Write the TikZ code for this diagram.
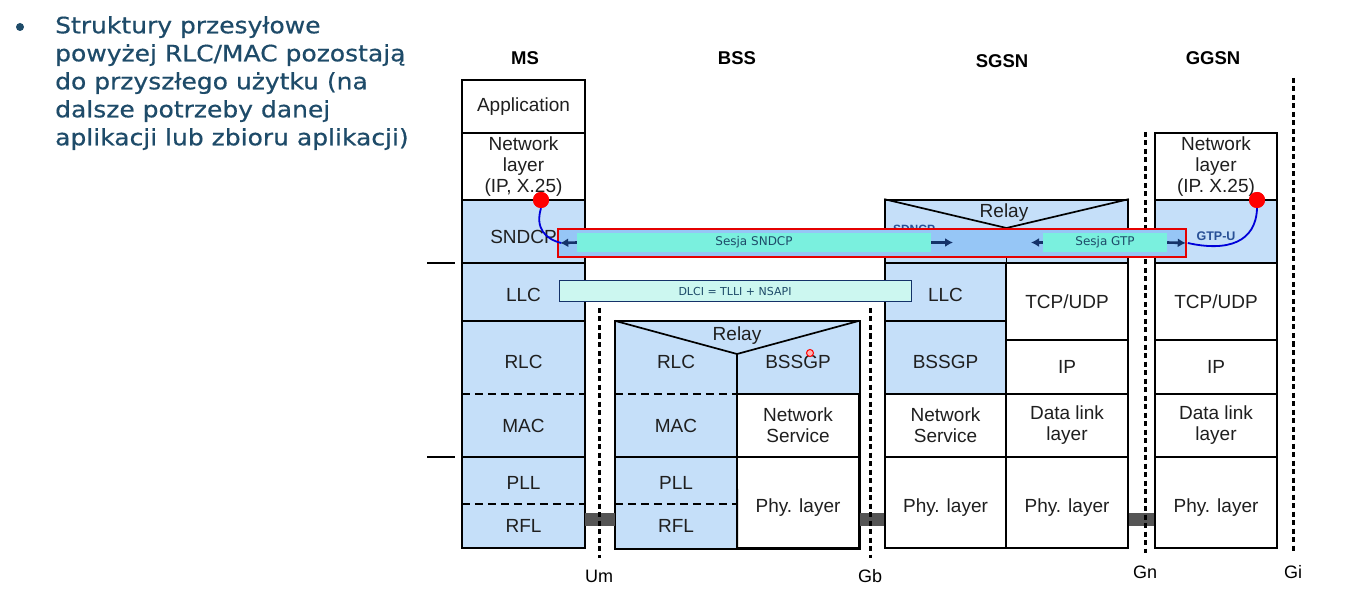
\documentclass[tikz,border=0pt]{standalone}
\usepackage{fontspec}
\setmainfont{Liberation Sans}
\newfontfamily\slajd[FakeStretch=1.11,FakeBold=0.5]{DejaVu Sans}
\newfontfamily\pasek{DejaVu Sans}
\usetikzlibrary{arrows.meta}
\definecolor{nieb}{RGB}{197,223,249}
\definecolor{pasnieb}{RGB}{150,198,246}
\definecolor{turkus}{RGB}{122,240,222}
\definecolor{jturkus}{RGB}{204,247,240}
\definecolor{morski}{RGB}{30,75,105}
\definecolor{granat}{RGB}{20,50,105}
\definecolor{ciemnyn}{RGB}{40,80,150}
\definecolor{szary}{RGB}{85,85,85}
\colorlet{tekstkom}{black!88}
\tikzstyle{kom}=[draw, line width=1.7pt, inner sep=0pt, align=center, text=tekstkom,
  font=\fontsize{19}{21}\selectfont]
\tikzstyle{bkom}=[kom, fill=nieb]
\tikzstyle{pkom}=[inner sep=0pt, align=center, fill=nieb, text=tekstkom,
  font=\fontsize{19}{21}\selectfont]
\tikzstyle{napis}=[inner sep=0pt, text=tekstkom, font=\fontsize{19}{21}\selectfont]
\tikzstyle{ramka}=[line width=1.7pt]
\tikzstyle{kreski}=[line width=1.7pt, dash pattern=on 8pt off 5pt]
\tikzstyle{interf}=[line width=3pt, dash pattern=on 5pt off 3.5pt]
\tikzstyle{lacze}=[line width=13pt, draw=szary]
\tikzstyle{strz}=[-{Latex[length=8pt,width=9pt]}, line width=2.6pt, draw=granat]
\tikzstyle{luk}=[line width=1.8pt, draw=blue!85!black]
\tikzstyle{naglowek}=[font=\bfseries\fontsize{18.5}{20}\selectfont, inner sep=0pt]
\tikzstyle{etyk}=[font=\fontsize{18}{20}\selectfont, inner sep=0pt]

\begin{document}
\begin{tikzpicture}[x=1pt,y=-1pt]
\fill[white] (0,0) rectangle (1351,593);
\useasboundingbox (0,0) rectangle (1351,593);

% tekst slajdu
\node[circle, fill=morski, minimum size=8, inner sep=0pt] (kropka) at (20,27) {};
\node[anchor=north west, inner sep=0pt, align=left, text=morski,
  font=\slajd\fontsize{22.5}{28}\selectfont] (punkt) at (55,16)
  {Struktury przesyłowe\\powyżej RLC/MAC pozostają\\do przyszłego użytku (na\\dalsze potrzeby danej\\aplikacji lub zbioru aplikacji)};

% naglowki
\node[naglowek] (tms) at (525,58) {MS};
\node[naglowek] (tbss) at (737,58) {BSS};
\node[naglowek] (tsgsn) at (1002,61) {SGSN};
\node[naglowek] (tggsn) at (1213,58) {GGSN};

% MS
\node[kom, minimum width=123, minimum height=53] (msapp) at (523.5,106.5) {Application};
\node[kom, minimum width=123, minimum height=67] (msnet) at (523.5,166.5) {Network\\layer\\(IP, X.25)};
\node[bkom, minimum width=123, minimum height=63, label={[napis, yshift=-5pt]center:SNDCP}] (mssndcp) at (523.5,231.5) {};
\node[bkom, minimum width=123, minimum height=58, label={[napis, yshift=-3pt]center:LLC}] (msllc) at (523.5,292) {};
\node[pkom, minimum width=123, minimum height=73, label={[napis, yshift=-4pt]center:RLC}] (msrlc) at (523.5,357.5) {};
\node[pkom, minimum width=123, minimum height=63] (msmac) at (523.5,425.5) {MAC};
\node[pkom, minimum width=123, minimum height=47, label={[napis, yshift=-2pt]center:PLL}] (mspll) at (523.5,480.5) {};
\node[pkom, minimum width=123, minimum height=44] (msrfl) at (523.5,526) {RFL};
\draw[ramka] (msrlc.north west) rectangle (msrfl.south east);
\draw[ramka] (mspll.north west) -- (mspll.north east);
\draw[kreski] (msmac.north west) -- (msmac.north east);
\draw[kreski] (msrfl.north west) -- (msrfl.north east);
\draw[line width=1.5pt] (427,263) -- (455,263);
\draw[line width=1.5pt] (427,457) -- (455,457);

% BSS
\node[pkom, minimum width=244, minimum height=73] (bssgora) at (737,357.5) {};
\node[napis] (bssrelay) at (737,336) {Relay};
\node[napis] (bssrlc) at (676,362) {RLC};
\node[napis] (bssbssgp) at (798,362) {BSSGP};
\node[pkom, minimum width=122, minimum height=63] (bssmac) at (676,425.5) {MAC};
\node[pkom, minimum width=122, minimum height=47, label={[napis, yshift=-2pt]center:PLL}] (bsspll) at (676,480.5) {};
\node[pkom, minimum width=122, minimum height=44] (bssrfl) at (676,526) {RFL};
\node[kom, minimum width=122, minimum height=63] (bssns) at (798,425.5) {Network\\Service};
\node[kom, minimum width=122, minimum height=91, label={[napis, yshift=-5pt]center:Phy. layer}] (bssphy) at (798,502.5) {};
\coordinate (bssszczyt) at (737,354);
\draw[ramka] (bssgora.north west) rectangle (bssphy.south east);
\draw[ramka] (bssgora.north west) -- (bssszczyt) -- (bssgora.north east);
\draw[ramka] (bssszczyt) -- (bssrfl.south east);
\draw[ramka] (bsspll.north west) -- (bsspll.north east);
\draw[kreski] (bssmac.north west) -- (bssmac.north east);
\draw[kreski] (bssrfl.north west) -- (bssrfl.north east);

% SGSN
\node[bkom, minimum width=243, minimum height=63] (sggora) at (1006.5,231.5) {};
\node[napis] (sgrelay) at (1004,213) {Relay};
\node[inner sep=0pt, text=ciemnyn, font=\bfseries\fontsize{12}{14}\selectfont] (sgsdncp) at (914,229) {SDNCP};
\coordinate (sgszczyt) at (1006.5,228);
\draw[ramka] (sggora.north west) -- (sgszczyt) -- (sggora.north east);
\draw[ramka] (sgszczyt) -- (sggora.south);
\node[bkom, minimum width=121, minimum height=58, label={[napis, yshift=-3pt]center:LLC}] (sgllc) at (945.5,292) {};
\node[bkom, minimum width=121, minimum height=73, label={[napis, yshift=-4pt]center:BSSGP}] (sgbssgp) at (945.5,357.5) {};
\node[kom, minimum width=121, minimum height=63] (sgns) at (945.5,425.5) {Network\\Service};
\node[kom, minimum width=121, minimum height=91, label={[napis, yshift=-5pt]center:Phy. layer}] (sgphy) at (945.5,502.5) {};
\node[kom, minimum width=122, minimum height=77] (sgtcp) at (1067,301.5) {TCP/UDP};
\node[kom, minimum width=122, minimum height=54] (sgip) at (1067,367) {IP};
\node[kom, minimum width=122, minimum height=63] (sgdl) at (1067,425.5) {Data link\\layer};
\node[kom, minimum width=122, minimum height=91, label={[napis, yshift=-5pt]center:Phy. layer}] (sgphyd) at (1067,502.5) {};

% GGSN
\node[kom, minimum width=122, minimum height=67] (ggnet) at (1216,166.5) {Network\\layer\\(IP. X.25)};
\node[bkom, minimum width=122, minimum height=63] (gggtp) at (1216,231.5) {};
\node[inner sep=0pt, text=ciemnyn, font=\bfseries\fontsize{12.5}{14}\selectfont] (gggtpu) at (1216,236) {GTP-U};
\node[kom, minimum width=122, minimum height=77] (ggtcp) at (1216,301.5) {TCP/UDP};
\node[kom, minimum width=122, minimum height=54] (ggip) at (1216,367) {IP};
\node[kom, minimum width=122, minimum height=63] (ggdl) at (1216,425.5) {Data link\\layer};
\node[kom, minimum width=122, minimum height=91, label={[napis, yshift=-5pt]center:Phy. layer}] (ggphy) at (1216,502.5) {};

% lacza fizyczne
\draw[lacze] ([yshift=7pt]msrfl.east) -- ([yshift=7pt]bssrfl.west);
\draw[lacze] ([yshift=-16.5pt]bssphy.east) -- ([yshift=-16.5pt]sgphy.west);
\draw[lacze] ([yshift=-16.5pt]sgphyd.east) -- ([yshift=-16.5pt]ggphy.west);

% interfejsy
\node[etyk] (um) at (599,576) {Um};
\node[etyk] (gb) at (870,576) {Gb};
\node[etyk] (gn) at (1145,572) {Gn};
\node[etyk] (gi) at (1293,572) {Gi};
\coordinate (umg) at (599,308); \coordinate (umd) at (599,558);
\coordinate (gbg) at (870,308); \coordinate (gbd) at (870,558);
\coordinate (gng) at (1145,132); \coordinate (gnd) at (1145,553);
\coordinate (gig) at (1293,78); \coordinate (gid) at (1293,553);
\draw[interf] (umg) -- (umd);
\draw[interf] (gbg) -- (gbd);
\draw[interf] (gng) -- (gnd);
\draw[interf] (gig) -- (gid);

% sesje
\node[draw=red!90!black, fill=pasnieb, line width=1.5pt, minimum width=628, minimum height=28, inner sep=0pt] (sesja) at (872,243) {};
\node[fill=turkus, minimum width=354, minimum height=19, inner sep=0pt, text=morski,
  font=\pasek\fontsize{12}{14}\selectfont] (ssndcp) at (754,242.5) {Sesja SNDCP};
\node[fill=turkus, minimum width=124, minimum height=19, inner sep=0pt, text=morski,
  font=\pasek\fontsize{12}{14}\selectfont] (sgtp) at (1105,242.5) {Sesja GTP};
\coordinate (sndcpkon) at (953,242.5);
\coordinate (gtppocz) at (1031,242.5);
\draw[strz] (ssndcp.west) -- ([xshift=3pt]sesja.west);
\draw[strz] (ssndcp.east) -- (sndcpkon);
\draw[strz] (sgtp.west) -- (gtppocz);
\draw[strz] (sgtp.east) -- ([xshift=-1pt]sesja.east);

\node[draw=granat, fill=jturkus, line width=1pt, minimum width=352, minimum height=21, inner sep=0pt,
  text=morski, font=\pasek\fontsize{11}{13}\selectfont] (dlci) at (735,291.5) {DLCI = TLLI + NSAPI};

% punkty dostepu
\node[circle, fill=red, minimum size=16, inner sep=0pt] (pms) at (541,200) {};
\node[circle, fill=red, minimum size=16, inner sep=0pt] (pgg) at (1257,200) {};
\draw[luk] (pms.south) .. controls (535,228) and (545,239) .. ([xshift=4pt]sesja.west);
\draw[luk] (pgg.south) .. controls (1256,242) and (1228,252) .. ([xshift=1pt]sesja.east);
\fill[red] (pms) circle (8);
\fill[red] (pgg) circle (8);

\node[circle, draw=red, fill=red!30, line width=1pt, minimum size=7, inner sep=0pt] (kursor) at (810,353) {};
\end{tikzpicture}
\end{document}
